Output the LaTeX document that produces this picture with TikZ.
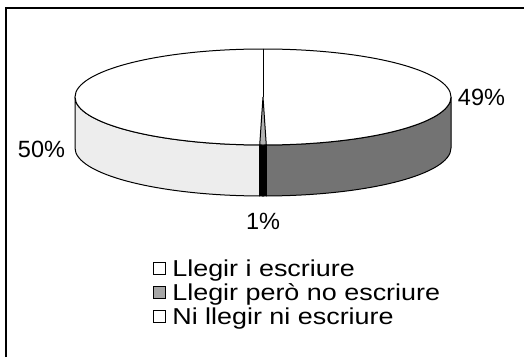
\documentclass[tikz,border=0pt]{standalone}
\usepackage{fontspec}
\setmainfont{Liberation Sans}
\usepackage{graphicx}
\usetikzlibrary{positioning}

\begin{document}
\begin{tikzpicture}[x=1pt,y=1pt,line width=1pt,
  rim/.style={x radius=188,y radius=48},
  pct/.style={inner sep=0pt,font=\fontsize{23.5}{28}\selectfont},
  key/.style={draw,line width=0.7pt,minimum size=12pt,inner sep=0pt},
  keytext/.style={inner sep=0pt,text height=16.5pt,text depth=0pt,font=\fontsize{23}{27}\selectfont}]
  \useasboundingbox (0,0) rectangle (524,357);
  \draw[line width=1.6pt] (6,0) -- (6,349) -- (524,349);

  \coordinate (o) at (263,260);
  \filldraw[fill=black!7] (o) ++(-91:188 and 48) arc[start angle=-91,end angle=-180,rim] -- ++(0,-51)
    arc[start angle=-180,end angle=-91,rim] -- cycle;
  \filldraw[fill=black!55] (o) ++(0:188 and 48) arc[start angle=0,end angle=-89,rim] -- ++(0,-51)
    arc[start angle=-89,end angle=0,rim] -- cycle;
  \filldraw[fill=black] (o) ++(-89:188 and 48) arc[start angle=-89,end angle=-91,rim] -- ++(0,-51)
    arc[start angle=-91,end angle=-89,rim] -- cycle;
  \filldraw[fill=white] (o) ellipse[rim];
  \filldraw[fill=black!30] (o) -- ++(-89:188 and 48) arc[start angle=-89,end angle=-91,rim] -- cycle;
  \draw (o) -- ++(90:188 and 48);

  \node[pct] (p49) at (481.5,260) {49\%};
  \node[pct] (p50) at (41.5,208) {50\%};
  \node[pct] (p1) at (263,136) {1\%};

  \node[key] (k1) at (159.5,89) {};
  \node[key,fill=black!35] (k2) at (159.5,65) {};
  \node[key] (k3) at (159.5,41) {};
  \node[keytext,right=6pt of k1] (t1) {\scalebox{1.17}[1]{Llegir i escriure}};
  \node[keytext,right=6pt of k2] (t2) {\scalebox{1.17}[1]{Llegir però no escriure}};
  \node[keytext,right=6pt of k3] (t3) {\scalebox{1.17}[1]{Ni llegir ni escriure}};
\end{tikzpicture}
\end{document}
